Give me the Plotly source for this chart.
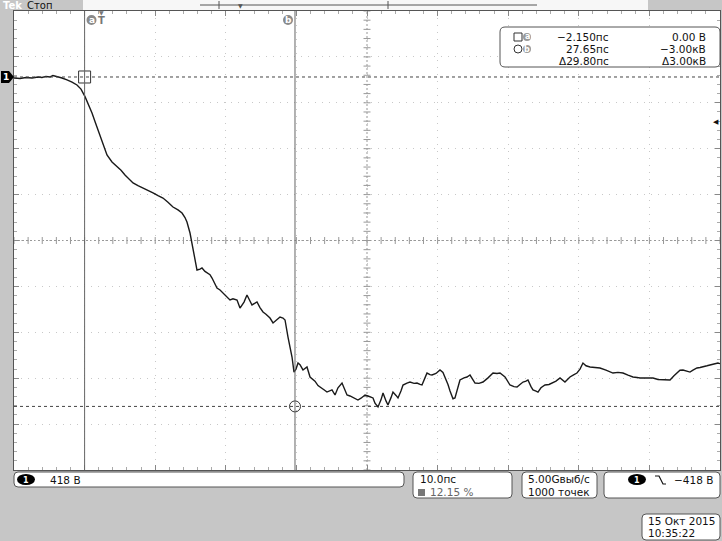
import numpy as np
import plotly.graph_objects as go

# waveform: time in ns, voltage in V
t_ns = [-12.15, -11.30, -10.45, -9.60, -8.75, -8.18, -7.62, -7.05, -6.63, -6.06,
        -5.35, -4.64, -3.93, -3.23, -2.66, -2.09, -1.67, -1.10, -0.68, -0.25,
        0.46, 1.02, 1.73, 2.16, 2.58, 3.01, 3.57, 4.14, 4.71, 5.41,
        6.12, 6.83, 7.54, 8.25, 8.95, 9.66, 10.37, 11.08, 11.65, 12.07,
        12.35, 12.78, 13.06, 13.49, 13.77, 14.20, 14.48, 14.90, 15.19, 15.61,
        15.90, 16.32, 16.60, 17.03, 17.45, 17.88, 18.44, 18.87, 19.44, 19.86,
        20.43, 20.85, 21.28, 21.56, 21.99, 22.27, 22.69, 23.12, 23.54, 24.11,
        24.54, 24.96, 25.53, 25.95, 26.24, 26.66, 26.94, 27.23, 27.51, 27.79,
        28.08, 28.36, 28.78, 29.07, 29.35, 29.78, 30.20, 30.48, 30.91, 31.48,
        31.90, 32.18, 32.61, 32.89, 33.32, 33.74, 34.31, 34.73, 35.02, 35.44,
        35.72, 36.15, 36.57, 37.00, 37.28, 37.57, 37.99, 38.27, 38.70, 38.98,
        39.41, 39.83, 40.12, 40.54, 40.82, 41.25, 41.53, 41.96, 42.24, 42.66,
        42.95, 43.51, 43.94, 44.51, 44.93, 45.36, 45.64, 46.06, 46.35, 46.77,
        47.06, 47.62, 48.19, 48.61, 48.90, 49.32, 49.61, 50.03, 50.31, 50.60,
        51.02, 51.59, 52.01, 52.44, 52.86, 53.15, 53.71, 54.28, 54.99, 55.70,
        56.26, 56.69, 57.40, 57.82, 58.10, 58.67, 59.10, 59.52, 59.95, 60.37,
        60.65, 61.08, 61.36, 61.79, 62.07, 62.49, 63.06, 63.63, 64.19, 64.62,
        65.19, 65.61, 65.89, 66.32, 66.60, 67.17, 67.59, 68.02, 68.44, 68.87,
        69.44, 70.14, 70.85, 71.70, 72.69, 73.40, 74.11, 74.82, 75.52, 76.09,
        76.52, 77.37, 78.36, 79.07, 79.77, 80.34, 80.77, 81.33, 81.76, 82.18,
        82.61, 83.17, 83.60, 84.02, 84.59, 85.02, 85.44, 86.01, 86.43, 87.00,
        87.56, 87.85]
u_v = [-9, -14, -5, -9, 0, -5, 5, 0, 14, 5,
       -9, -27, -46, -73, -110, -179, -240, -328, -405, -483,
       -601, -710, -774, -800, -820, -850, -893, -930, -965, -990,
       -1011, -1030, -1056, -1080, -1102, -1140, -1184, -1210, -1239, -1280,
       -1321, -1421, -1512, -1667, -1758, -1750, -1739, -1770, -1785, -1800,
       -1831, -1880, -1922, -1940, -1967, -2000, -2031, -2020, -2031, -2104,
       -2050, -1985, -2040, -2076, -2060, -2049, -2100, -2140, -2160, -2195,
       -2240, -2215, -2186, -2195, -2213, -2368, -2460, -2550, -2687, -2660,
       -2605, -2620, -2668, -2650, -2641, -2732, -2759, -2770, -2810, -2832,
       -2855, -2869, -2860, -2850, -2896, -2830, -2787, -2860, -2896, -2905,
       -2914, -2923, -2942, -2925, -2914, -2896, -2905, -2914, -2923, -2970,
       -3005, -2940, -2878, -2950, -2987, -2920, -2869, -2900, -2923, -2860,
       -2805, -2787, -2778, -2790, -2787, -2800, -2805, -2740, -2696, -2710,
       -2714, -2700, -2668, -2690, -2732, -2800, -2859, -2930, -2923, -2850,
       -2759, -2740, -2732, -2714, -2760, -2787, -2790, -2778, -2740, -2696,
       -2700, -2696, -2732, -2780, -2805, -2820, -2823, -2800, -2778, -2770,
       -2759, -2820, -2850, -2860, -2869, -2830, -2805, -2800, -2787, -2770,
       -2741, -2760, -2778, -2750, -2732, -2710, -2696, -2660, -2605, -2630,
       -2641, -2645, -2650, -2670, -2696, -2690, -2696, -2715, -2732, -2736,
       -2741, -2741, -2741, -2755, -2759, -2759, -2759, -2720, -2696, -2670,
       -2668, -2675, -2687, -2670, -2650, -2645, -2641, -2630, -2623, -2615,
       -2605, -2610]

cursor_t = [-2.15, 27.65]
cursor_u = [0.0, -3000.0]
volts_div = 418
ns_div = 10
x_range = [-12.15, 87.85]
y_range = [601 - 10 * volts_div, 601]
x_mid = sum(x_range) / 2
y_mid = sum(y_range) / 2

meas_rows = [("−2.150пс", "0.00 В"), ("27.65пс", "−3.00кВ"), ("Δ29.80пс", "Δ3.00кВ")]

W, H = 722, 541
L, R, T, B = 14, 720, 11, 470
FONT = "DejaVu Sans"


def X(px):
    return (px - L) / (R - L)


def Y(py):
    return (B - py) / (B - T)


def rrect(x0, y0, x1, y1, r=4, fill="white", line="#555"):
    p = (f"M {X(x0 + r)},{Y(y0)} L {X(x1 - r)},{Y(y0)} Q {X(x1)},{Y(y0)} {X(x1)},{Y(y0 + r)} "
         f"L {X(x1)},{Y(y1 - r)} Q {X(x1)},{Y(y1)} {X(x1 - r)},{Y(y1)} "
         f"L {X(x0 + r)},{Y(y1)} Q {X(x0)},{Y(y1)} {X(x0)},{Y(y1 - r)} "
         f"L {X(x0)},{Y(y0 + r)} Q {X(x0)},{Y(y0)} {X(x0 + r)},{Y(y0)} Z")
    return dict(type="path", xref="paper", yref="paper", path=p, fillcolor=fill,
                line=dict(color=line, width=1), layer="above")


def txt(px, py, s, size=11, color="#111", anchor="left", bold=False):
    if bold:
        s = f"<b>{s}</b>"
    return dict(x=X(px), y=Y(py), xref="paper", yref="paper", text=s, showarrow=False,
                xanchor=anchor, yanchor="middle", font=dict(family=FONT, size=size, color=color))


fig = go.Figure()

# centre cross tick marks
xt = np.arange(x_range[0], x_range[1] + 0.01, ns_div / 5)
yt = np.arange(y_range[0], y_range[1] + 0.1, volts_div / 5)
fig.add_trace(go.Scatter(x=xt, y=[y_mid] * len(xt), mode="markers", hoverinfo="skip",
                         marker=dict(symbol="line-ns", size=5, color="#999", line=dict(color="#999", width=1))))
fig.add_trace(go.Scatter(x=[x_mid] * len(yt), y=yt, mode="markers", hoverinfo="skip",
                         marker=dict(symbol="line-ew", size=5, color="#999", line=dict(color="#999", width=1))))

# waveform
fig.add_trace(go.Scatter(x=t_ns, y=u_v, mode="lines", line=dict(color="#1a1a1a", width=1.4),
                         hoverinfo="skip"))

# cursor markers
fig.add_trace(go.Scatter(x=[cursor_t[0]], y=[cursor_u[0]], mode="markers",
                         marker=dict(symbol="square-open", size=12, color="#333",
                                     line=dict(color="#333", width=1))))
fig.add_trace(go.Scatter(x=[cursor_t[1]], y=[cursor_u[1]], mode="markers",
                         marker=dict(symbol="circle-open", size=11, color="#333",
                                     line=dict(color="#333", width=1))))

shapes = []
# centre dotted lines
shapes.append(dict(type="line", xref="x", yref="y", x0=x_range[0], x1=x_range[1], y0=y_mid, y1=y_mid,
                   line=dict(color="#999", width=1, dash="2px,2px"), layer="below"))
shapes.append(dict(type="line", xref="x", yref="y", x0=x_mid, x1=x_mid, y0=y_range[0], y1=y_range[1],
                   line=dict(color="#999", width=1, dash="2px,2px"), layer="below"))
# cursors
for tc in cursor_t:
    shapes.append(dict(type="line", xref="x", yref="paper", x0=tc, x1=tc, y0=0, y1=1,
                       line=dict(color="#666", width=1)))
for uc in cursor_u:
    shapes.append(dict(type="line", xref="paper", yref="y", x0=0, x1=1, y0=uc, y1=uc,
                       line=dict(color="#444", width=1, dash="3px,3px")))

# top bar
shapes.append(dict(type="rect", xref="paper", yref="paper", x0=X(83), x1=X(648), y0=Y(10), y1=Y(0),
                   fillcolor="#f7f7f7", line=dict(width=0)))
shapes.append(dict(type="line", xref="paper", yref="paper", x0=X(200), x1=X(537), y0=Y(5), y1=Y(5),
                   line=dict(color="#555", width=1)))
for px in (219, 388):
    shapes.append(dict(type="line", xref="paper", yref="paper", x0=X(px), x1=X(px), y0=Y(1), y1=Y(9),
                       line=dict(color="#555", width=1)))

# cursor label circles
for cx, lab in ((91.5, "a"), (288, "b")):
    shapes.append(dict(type="circle", xref="paper", yref="paper", x0=X(cx - 5), x1=X(cx + 5),
                       y0=Y(25), y1=Y(15), fillcolor="#8a8a8a", line=dict(width=0)))

# ground marker
shapes.append(dict(type="path", xref="paper", yref="paper",
                   path=f"M {X(1)},{Y(71)} L {X(9)},{Y(71)} L {X(14)},{Y(77)} L {X(9)},{Y(83)} L {X(1)},{Y(83)} Z",
                   fillcolor="black", line=dict(width=0)))

# measurement box
shapes.append(rrect(500, 27, 720, 67, r=5))
shapes.append(dict(type="rect", xref="paper", yref="paper", x0=X(514), x1=X(522), y0=Y(41), y1=Y(33),
                   line=dict(color="#333", width=1), fillcolor="white"))
shapes.append(dict(type="circle", xref="paper", yref="paper", x0=X(514), x1=X(522), y0=Y(53), y1=Y(45),
                   line=dict(color="#333", width=1), fillcolor="white"))
for cy in (37, 49):
    shapes.append(dict(type="circle", xref="paper", yref="paper", x0=X(523), x1=X(531), y0=Y(cy + 4),
                       y1=Y(cy - 4), fillcolor="#9a9a9a", line=dict(width=0)))

# bottom boxes
shapes.append(rrect(14, 472, 404, 487, r=4))
shapes.append(rrect(413, 472, 512, 498, r=4))
shapes.append(rrect(522, 472, 597, 498, r=4))
shapes.append(rrect(604, 472, 720, 498, r=4))
shapes.append(rrect(642, 514, 720, 540, r=4))
for ox in (17, 628):
    shapes.append(dict(type="circle", xref="paper", yref="paper", x0=X(ox), x1=X(ox + 18),
                       y0=Y(485), y1=Y(474), fillcolor="black", line=dict(width=0)))
shapes.append(dict(type="rect", xref="paper", yref="paper", x0=X(418), x1=X(425), y0=Y(496), y1=Y(489),
                   fillcolor="#777", line=dict(width=0)))
shapes.append(dict(type="path", xref="paper", yref="paper",
                   path=f"M {X(655)},{Y(476)} L {X(659)},{Y(476)} L {X(663)},{Y(484)} L {X(666)},{Y(484)}",
                   line=dict(color="#111", width=1.2)))

ann = []
ann.append(txt(1, 6, "Tek", size=10, color="white", bold=True))
ann.append(txt(25, 6, "Стоп", size=10, color="#111"))
ann.append(txt(240, 6, "▼", size=6, color="#555", anchor="center"))
ann.append(txt(91.5, 20, "a", size=9, color="white", anchor="center", bold=True))
ann.append(txt(288, 20, "b", size=9, color="white", anchor="center", bold=True))
ann.append(txt(101, 13, "▼", size=6, color="#777", anchor="center"))
ann.append(txt(101, 21, "T", size=10, color="#777", anchor="center", bold=True))
ann.append(txt(6, 77, "1", size=9, color="white", anchor="center", bold=True))
ann.append(txt(716, 122, "◀", size=7, color="#111", anchor="center"))
for i, (a, b) in enumerate(meas_rows):
    ry = 37 + i * 12
    ann.append(txt(611, ry, a, size=10.5, anchor="right"))
    ann.append(txt(708, ry, b, size=10.5, anchor="right"))
ann.append(txt(527, 37, "a", size=8, color="white", anchor="center", bold=True))
ann.append(txt(527, 49, "b", size=8, color="white", anchor="center", bold=True))
ann.append(txt(26, 480, "1", size=8, color="white", anchor="center", bold=True))
ann.append(txt(48, 480, "418 В", size=10.5))
ann.append(txt(418, 479, "10.0пс", size=10.5))
ann.append(txt(428, 492, "12.15 %", size=10.5, color="#666"))
ann.append(txt(526, 479, "5.00Gвыб/с", size=10.5))
ann.append(txt(526, 492, "1000 точек", size=10.5))
ann.append(txt(637, 480, "1", size=8, color="white", anchor="center", bold=True))
ann.append(txt(715, 480, "−418 В", size=10.5, anchor="right"))
ann.append(txt(646, 521, "15 Окт 2015", size=10.5))
ann.append(txt(646, 533, "10:35:22", size=10.5))

ax = dict(showline=True, linecolor="#555", linewidth=1, mirror="allticks", zeroline=False,
          ticks="inside", ticklen=5, tickcolor="#888", showticklabels=False,
          gridcolor="#c8c8c8", griddash="1px,6px", gridwidth=1)
fig.update_xaxes(**ax, range=x_range, tick0=cursor_t[0], dtick=ns_div,
                 minor=dict(dtick=ns_div / 5, tick0=cursor_t[0], ticks="inside", ticklen=3,
                            tickcolor="#aaa", showgrid=False))
fig.update_yaxes(**ax, range=y_range, tick0=y_range[1] - volts_div, dtick=volts_div,
                 minor=dict(dtick=volts_div / 5, tick0=y_range[1] - volts_div, ticks="inside",
                            ticklen=3, tickcolor="#aaa", showgrid=False))
fig.update_layout(width=W, height=H, margin=dict(l=L, r=W - R, t=T, b=H - B, pad=0),
                  paper_bgcolor="#c6c6c6", plot_bgcolor="white", showlegend=False,
                  shapes=shapes, annotations=ann)
# the page body has a default 8px margin; drop it so the screen fills the window
fig.write_html("out.html", config={"displayModeBar": False},
               post_script="document.body.style.margin='0';")
